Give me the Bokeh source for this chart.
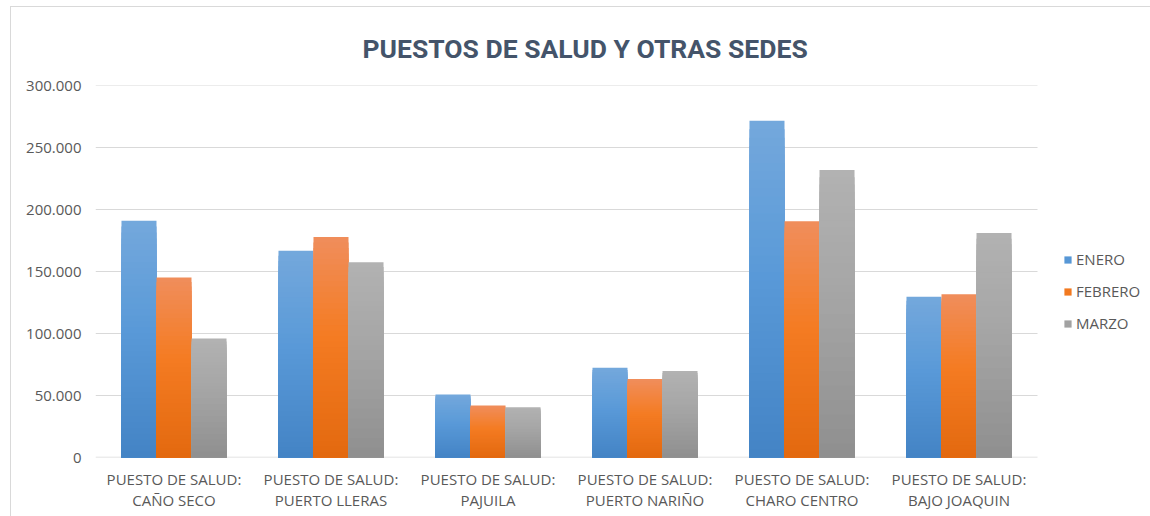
from bokeh.plotting import figure
from bokeh.models import (Range1d, ColumnDataSource, FixedTicker,
                          Legend, LegendItem, LinearAxis)
from bokeh.transform import dodge
from bokeh.embed import file_html
from bokeh.resources import INLINE

# ---------------- data ----------------
title_text = "PUESTOS DE SALUD Y OTRAS SEDES"
prefix = "PUESTO DE SALUD:"
sedes = ["CAÑO SECO", "PUERTO LLERAS", "PAJUILA", "PUERTO NARIÑO",
         "CHARO CENTRO", "BAJO JOAQUIN"]
months = ["ENERO", "FEBRERO", "MARZO"]
enero = [191000, 166800, 50900, 72300, 271500, 129700]
febrero = [145100, 177800, 42000, 63300, 190500, 131600]
marzo = [95900, 157500, 40600, 69800, 231800, 181000]
y_ticks = [0, 50000, 100000, 150000, 200000, 250000, 300000]
y_tick_labels = ["0", "50.000", "100.000", "150.000", "200.000", "250.000", "300.000"]

# ---------------- styles ----------------
series = [enero, febrero, marzo]
offsets = [-0.223, 0.0, 0.223]
bar_w = 0.223
# gradient stops: bottom, middle, top
grad = [
    ("#4383C5", "#5A9AD8", "#74A8DC"),
    ("#E3690F", "#F47B22", "#F08E5C"),
    ("#8F8F8F", "#A5A5A5", "#B2B2B2"),
]
TXT = "#595959"
GRID = "#D9D9D9"
FONT = "Open Sans"


def hex2rgb(h):
    h = h.lstrip("#")
    return tuple(int(h[i:i + 2], 16) for i in (0, 2, 4))


def mix(c1, c2, t):
    a, b = hex2rgb(c1), hex2rgb(c2)
    return "#%02x%02x%02x" % tuple(round(a[i] + (b[i] - a[i]) * t) for i in range(3))


def grad_color(stops, t):
    lo, mid, hi = stops
    m = 0.55
    if t <= m:
        return mix(lo, mid, t / m)
    return mix(mid, hi, (t - m) / (1 - m))


n_cat = len(sedes)
cat_pos = [i + 0.5 for i in range(n_cat)]

FIG_W, FIG_H = 1140, 510
B_LEFT = 84
CAT_PX = 157.0
frame_w = FIG_W - B_LEFT
x_end = frame_w / CAT_PX  # frame extends to the right edge; legend lives inside it

p = figure(x_range=Range1d(0, x_end), y_range=Range1d(0, 300000),
           width=FIG_W, height=FIG_H, output_backend="svg", toolbar_location=None,
           x_axis_location=None,
           min_border_left=B_LEFT, min_border_right=0, min_border_top=78,
           min_border_bottom=60)
p.margin = (6, 0, 0, 10)
p.styles = {"border-left": "1px solid #D9D9D9", "border-top": "1px solid #D9D9D9"}
p.outline_line_color = None
p.background_fill_color = "white"
p.border_fill_color = "white"
p.xgrid.grid_line_color = None
p.ygrid.grid_line_color = None

# gridlines and baseline across the category span only
p.segment(x0=0, x1=n_cat, y0=y_ticks[1:], y1=y_ticks[1:], line_color=GRID, line_width=1)
p.segment(x0=0, x1=n_cat, y0=y_ticks[0], y1=y_ticks[0], line_color=GRID, line_width=1.3)

K = 40
legend_renderers = []
for s, vals in enumerate(series):
    mid_r = None
    for j in range(K):
        frac_top = (K - j) / K
        t = (K - j - 0.5) / K
        src = ColumnDataSource(dict(pos=cat_pos, cat=sedes,
                                    top=[v * frac_top for v in vals]))
        r = p.vbar(x=dodge("pos", offsets[s]), top="top", bottom=0,
                   width=bar_w, source=src, fill_color=grad_color(grad[s], t),
                   line_color=None)
        if j == K // 2:
            mid_r = r
    legend_renderers.append(mid_r)

# title
p.title.text = title_text
p.title.text_font = "Roboto"
p.title.text_font_style = "bold"
p.title.text_font_size = "26.5px"
p.title.text_color = "#44546A"
p.title.align = "left"
p.title.offset = 267
p.title.standoff = 43

# y axis
p.yaxis.ticker = FixedTicker(ticks=y_ticks)
p.yaxis.major_label_overrides = {t: l for t, l in zip(y_ticks, y_tick_labels)}
p.yaxis.axis_line_color = None
p.yaxis.major_tick_line_color = None
p.yaxis.major_tick_out = 0
p.yaxis.minor_tick_line_color = None
p.yaxis.minor_tick_out = 0
p.yaxis.major_label_text_font = FONT
p.yaxis.major_label_text_font_size = "15px"
p.yaxis.major_label_text_color = TXT
p.yaxis.major_label_standoff = 14

# x axis, first line
ax1 = LinearAxis(ticker=FixedTicker(ticks=cat_pos))
ax1.major_label_overrides = {c: prefix for c in cat_pos}
ax1.axis_line_color = None
ax1.major_tick_line_color = None
ax1.minor_tick_line_color = None
ax1.major_tick_out = 0
ax1.minor_tick_out = 0
ax1.major_label_text_font = FONT
ax1.major_label_text_font_size = "15px"
ax1.major_label_text_color = TXT
ax1.major_label_standoff = 11
p.add_layout(ax1, "below")

# x axis, second line
ax2 = LinearAxis(ticker=FixedTicker(ticks=cat_pos))
ax2.major_label_overrides = {c: n for c, n in zip(cat_pos, sedes)}
ax2.axis_line_color = None
ax2.major_tick_line_color = None
ax2.minor_tick_line_color = None
ax2.major_tick_out = 0
ax2.minor_tick_out = 0
ax2.major_label_text_font = FONT
ax2.major_label_text_font_size = "15px"
ax2.major_label_text_color = TXT
ax2.major_label_standoff = -2
p.add_layout(ax2, "below")

# legend (inside the frame, right of the last category)
items = [LegendItem(label=m, renderers=[r]) for m, r in zip(months, legend_renderers)]
legend = Legend(items=items, location=(968, 124))
legend.glyph_width = 9
legend.glyph_height = 9
legend.label_standoff = 4
legend.spacing = 12
legend.label_height = 20
legend.padding = 0
legend.margin = 0
legend.border_line_color = None
legend.background_fill_alpha = 0
legend.label_text_font = FONT
legend.label_text_font_size = "15px"
legend.label_text_color = TXT
p.add_layout(legend, "center")

open("out.html", "w").write(file_html(p, INLINE))
